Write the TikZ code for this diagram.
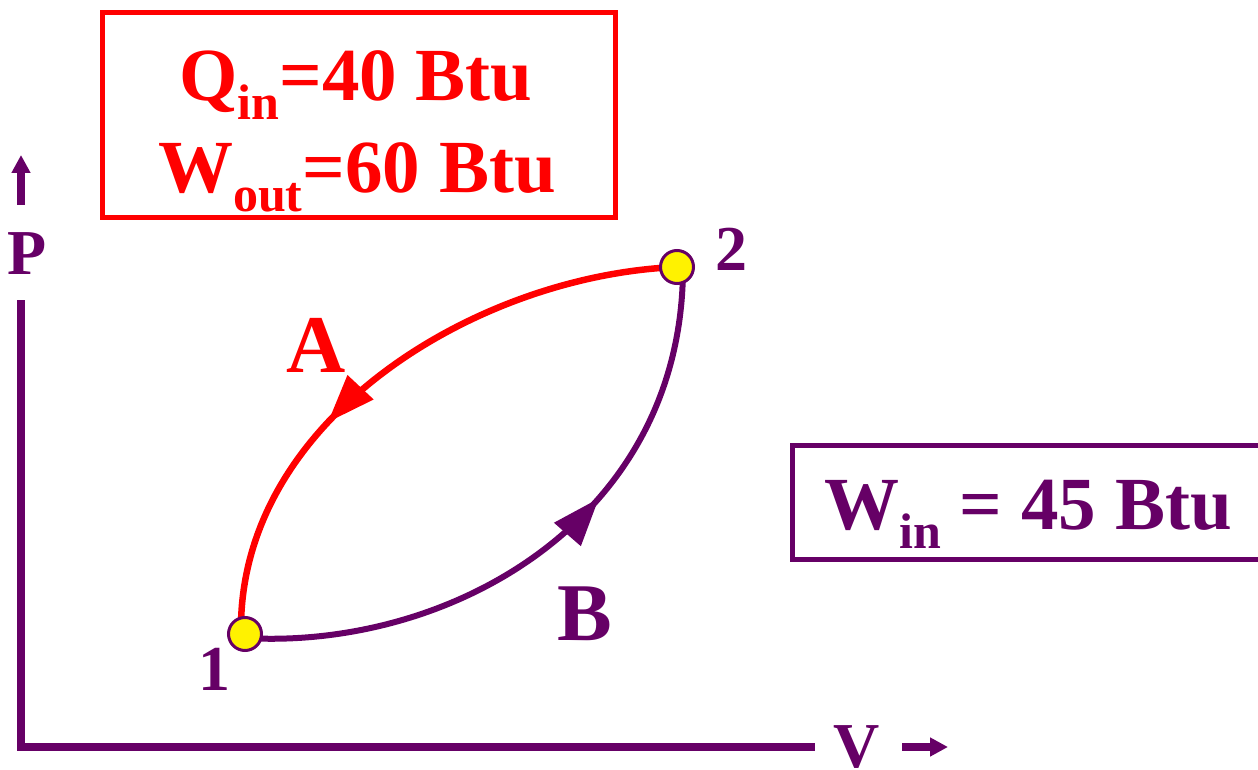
\documentclass[tikz,border=0pt]{standalone}
\usepackage{fontspec}
\setmainfont{Liberation Serif}
\usetikzlibrary{arrows.meta,decorations.markings,backgrounds}
\definecolor{pur}{HTML}{660066}
\newcommand\lowsub[1]{\raisebox{-19pt}{\fontsize{50}{50}\selectfont #1}}
\begin{document}
\begin{tikzpicture}[x=1pt,y=-1pt,
  big/.style={font=\fontsize{75}{90}\selectfont\bfseries, inner sep=0pt, anchor=base},
  lbl/.style={font=\fontsize{64}{70}\selectfont\bfseries, inner sep=0pt, text=pur},
  curvelbl/.style={font=\fontsize{82}{90}\selectfont\bfseries, inner sep=0pt, anchor=base},
  ptnode/.style={circle, draw=pur, line width=3pt, fill=yellow, minimum size=33pt, inner sep=0pt},
  axisline/.style={draw=pur, line width=8pt},
  boxnode/.style={rectangle, line width=5pt, inner sep=0pt, anchor=north west},
  tiparrow/.style={-{Triangle[length=18pt,width=18pt]}}
]
\useasboundingbox (0,0) rectangle (1258,770);

% axes
\coordinate (ytop) at (21,300);
\coordinate (origin) at (21,747);
\coordinate (xend) at (815,747);
\draw[axisline, line join=miter] (ytop) -- (origin) -- (xend);
\coordinate (ua0) at (21,205);
\coordinate (ua1) at (21,155);
\draw[axisline, tiparrow] (ua0) -- (ua1);
\coordinate (ra0) at (902,747);
\coordinate (ra1) at (948,747);
\draw[axisline, tiparrow] (ra0) -- (ra1);
\node[lbl] (P) at (27,254) {P};
\node[lbl] (V) at (857,747) {V};

% state points
\node[ptnode] (p1) at (245,634) {};
\node[ptnode] (p2) at (677,267) {};
\node[lbl] (l1) at (214,669) {1};
\node[lbl] (l2) at (731,249) {2};

% process curves
\begin{scope}[on background layer]
\draw[red, line width=6.5pt, postaction={decorate},
  decoration={markings, mark=at position 0.625 with {\arrow{Triangle[length=48pt,width=34pt]}}}]
  (p2.center) .. controls (477,275) and (237,420) .. ([xshift=-4pt]p1.center);
\draw[pur, line width=6pt, postaction={decorate},
  decoration={markings, mark=at position 0.61 with {\arrow{Triangle[length=48pt,width=34pt]}}}]
  ([yshift=-4pt]p1.center) .. controls (450,650) and (683,520) .. ([xshift=6pt]p2.center);
\end{scope}
\node[curvelbl, text=red] (A) at (316,372) {A};
\node[curvelbl, text=pur] (B) at (585,640) {B};

% boxes
\node[boxnode, draw=red, minimum width=513pt, minimum height=205pt] (rbox) at (100,10) {};
\node[big, text=red] (qin) at (356,101) {Q\lowsub{in}=40 Btu};
\node[big, text=red] (wout) at (357,193) {W\lowsub{out}=60 Btu};
\node[boxnode, draw=pur, minimum width=520pt, minimum height=114pt] (wbox) at (790,443) {};
\node[big, text=pur] (win) at (1028,529) {W\lowsub{in} = 45 Btu};
\end{tikzpicture}
\end{document}
